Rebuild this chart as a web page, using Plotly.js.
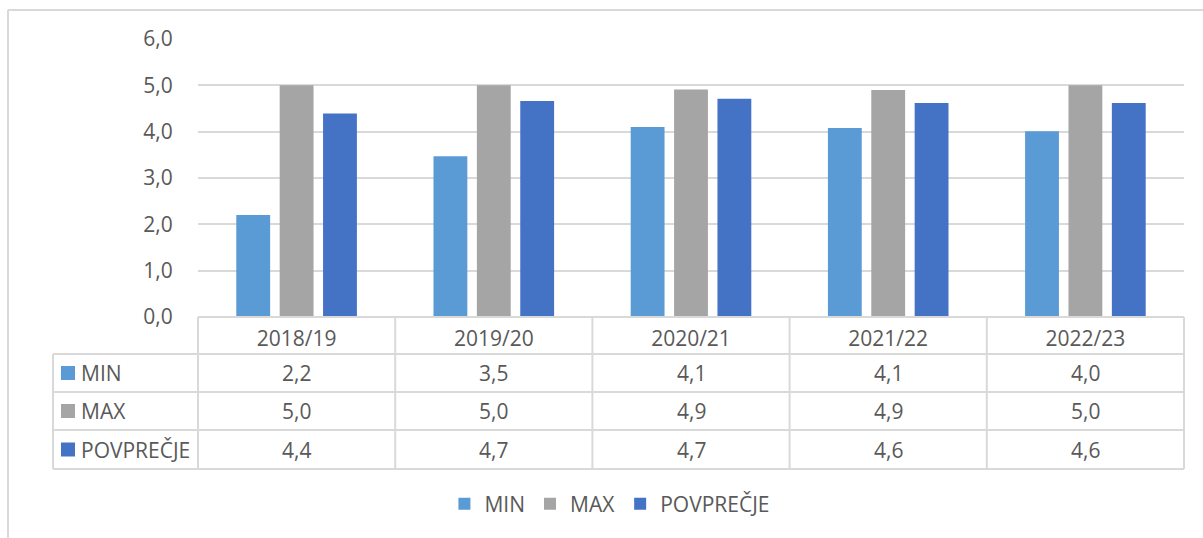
<!DOCTYPE html>
<html>
<head>
<meta charset="utf-8">
<script src="https://cdn.plot.ly/plotly-3.0.1.min.js"></script>
<style>html,body{margin:0;padding:0;background:#fff;}#chart{width:1203px;height:538px;}</style>
</head>
<body>
<div id="chart"></div>
<script>
// ---- data ----
const categories = ['2018/19', '2019/20', '2020/21', '2021/22', '2022/23'];
const seriesNames = ['MIN', 'MAX', 'POVPREČJE'];
const minVals = [2.20, 3.47, 4.10, 4.08, 4.01];
const maxVals = [5.00, 5.00, 4.91, 4.90, 5.00];
const avgVals = [4.39, 4.66, 4.71, 4.62, 4.62];
const yTickVals = [0, 1, 2, 3, 4, 5, 6];

// ---- styles ----
const colors = ['#5B9BD5', '#A5A5A5', '#4472C4'];
const txt = '#595959';
const lineCol = '#D9D9D9';
const FONT = 'Open Sans, Noto Sans, sans-serif';
const FS = 21;

// ---- geometry ----
const W = 1203, H = 538;
const M = {l: 198, r: 19, t: 39, b: 221};
const PW = W - M.l - M.r, PH = H - M.t - M.b;
const xp = px => (px - M.l) / PW;
const yp = py => (H - M.b - py) / PH;
const n = categories.length;
const catEdge = i => i / n;

const rowTops = [317, 354, 392, 430, 469];
const tableLeft = 53;

const valueSets = [minVals, maxVals, avgVals];
const traces = seriesNames.map((nm, k) => ({
  type: 'bar', name: nm, x: categories, y: valueSets[k],
  marker: {color: colors[k], line: {width: 0}},
  hoverinfo: 'x+y+name'
}));

const shapes = [];
const ann = [];
const L = (x0, y0, x1, y1) => shapes.push({type: 'line', xref: 'paper', yref: 'paper',
  x0, y0, x1, y1, line: {color: lineCol, width: 2}, layer: 'above'});

// outer chart frame (top + left)
L(xp(8), yp(10), xp(W + 5), yp(10));
L(xp(8), yp(10), xp(8), yp(H + 5));

// table lines
L(0, yp(rowTops[0]), 1, yp(rowTops[0]));
for (let r = 1; r < rowTops.length; r++) L(xp(tableLeft), yp(rowTops[r]), 1, yp(rowTops[r]));
L(xp(tableLeft), yp(rowTops[1]), xp(tableLeft), yp(rowTops[4]));
for (let i = 0; i <= n; i++) L(catEdge(i), yp(rowTops[0]), catEdge(i), yp(rowTops[4]));

const fmt = v => v.toFixed(1).replace('.', ',');
seriesNames.forEach((nm, k) => {
  const cy = (rowTops[k + 1] + rowTops[k + 2]) / 2;
  shapes.push({type: 'rect', xref: 'paper', yref: 'paper',
    x0: xp(61), x1: xp(75), y0: yp(cy - 7), y1: yp(cy + 7),
    fillcolor: colors[k], line: {width: 0}, layer: 'above'});
  ann.push({xref: 'paper', yref: 'paper', x: xp(79), y: yp(cy), xanchor: 'left', yanchor: 'middle',
    text: nm, showarrow: false, font: {family: FONT, size: FS, color: txt}});
  valueSets[k].forEach((v, i) => {
    ann.push({xref: 'paper', yref: 'paper', x: (catEdge(i) + catEdge(i + 1)) / 2, y: yp(cy),
      xanchor: 'center', yanchor: 'middle', text: fmt(v), showarrow: false,
      font: {family: FONT, size: FS, color: txt}});
  });
});

const layout = {
  width: W, height: H,
  margin: M,
  paper_bgcolor: '#fff', plot_bgcolor: '#fff',
  separators: ',.',
  font: {family: FONT, size: FS, color: txt},
  barmode: 'group', bargap: 0.34, bargroupgap: 0.22,
  xaxis: {
    type: 'category', range: [-0.5, n - 0.5], showgrid: false, showline: false, zeroline: false,
    ticks: 'outside', ticklen: 3, tickcolor: 'rgba(0,0,0,0)',
    tickfont: {family: FONT, size: FS, color: txt}, fixedrange: true
  },
  yaxis: {
    range: [0, 6], tickvals: yTickVals, tickformat: '.1f',
    showgrid: true, gridcolor: lineCol, gridwidth: 2, zeroline: false, showline: false,
    ticks: 'outside', ticklen: 20, tickcolor: 'rgba(0,0,0,0)',
    tickfont: {family: FONT, size: FS, color: txt}, fixedrange: true
  },
  showlegend: true,
  legend: {
    orientation: 'h', xref: 'container', yref: 'container',
    x: 0.507, xanchor: 'center', y: (H - 504) / H, yanchor: 'middle',
    font: {family: FONT, size: FS, color: txt}, itemwidth: 30, traceorder: 'normal'
  },
  shapes: shapes,
  annotations: ann
};

Plotly.newPlot('chart', traces, layout, {displayModeBar: false, staticPlot: true});
</script>
</body>
</html>
